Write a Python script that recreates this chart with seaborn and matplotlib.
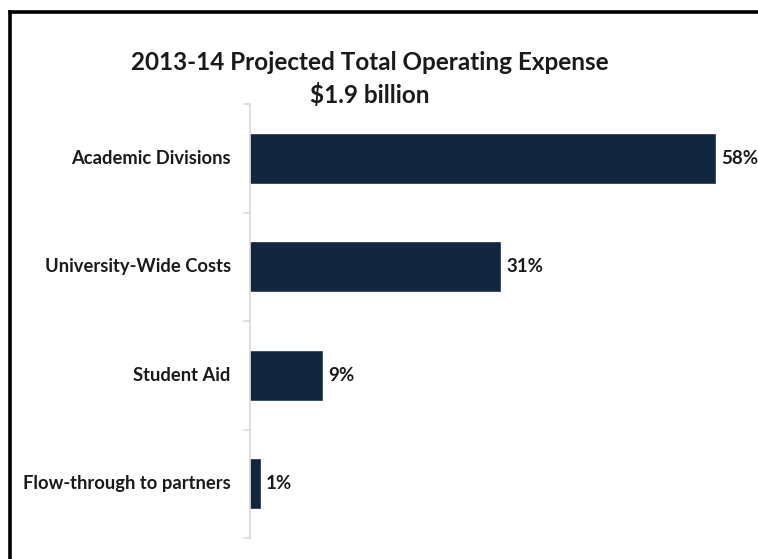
import matplotlib
matplotlib.use("Agg")
import matplotlib.pyplot as plt
import seaborn as sns
import pandas as pd
from matplotlib.lines import Line2D

categories = ["Academic Divisions", "University-Wide Costs", "Student Aid", "Flow-through to partners"]
values = [58.0, 31.2, 9.0, 1.2]
labels = ["58%", "31%", "9%", "1%"]
title_lines = ["2013-14 Projected Total Operating Expense", "$1.9 billion"]

sns.set_theme(style="white")
plt.rcParams['font.family'] = ['Lato', 'DejaVu Sans']

W, H = 758, 559
fig = plt.figure(figsize=(W / 100, H / 100), dpi=100)
fig.patch.set_facecolor("white")

left_px, right_px, top_px, bot_px = 250, 746, 104, 538
ax = fig.add_axes([left_px / W, 1 - bot_px / H, (right_px - left_px) / W, (bot_px - top_px) / H])

df = pd.DataFrame({"cat": categories, "val": values})
sns.barplot(data=df, x="val", y="cat", color="#13263F", width=0.45, ax=ax,
            saturation=1, edgecolor="#1F3355", linewidth=0.5)

ax.set_xlim(0, (right_px - left_px) / 8.02)
ax.set_ylim(len(categories) - 0.5, -0.5)
ax.set_xlabel("")
ax.set_ylabel("")
ax.set_xticks([])
ax.set_yticks([])
for s in ["top", "right", "bottom"]:
    ax.spines[s].set_visible(False)
ax.spines["left"].set_color("#D9D9D9")
ax.spines["left"].set_linewidth(1.2)

# category boundary ticks
for b in [i - 0.5 for i in range(len(categories) + 1)]:
    ax.add_line(Line2D([-0.012, 0], [b, b], transform=ax.get_yaxis_transform(),
                       color="#D9D9D9", lw=1.2, clip_on=False))

for i, (cat, v, lab) in enumerate(zip(categories, values, labels)):
    ax.text(v + 0.75, i, lab, va="center", ha="left", fontsize=13.5, fontweight="bold", color="#1a1a1a")
    ax.text(-0.039, i, cat, transform=ax.get_yaxis_transform(), va="center", ha="right",
            fontsize=13.2, fontweight="bold", color="#1a1a1a")

fig.text(370 / W, 1 - 62 / H, title_lines[0], ha="center", va="center", fontsize=17.5, fontweight="bold", color="#1a1a1a")
fig.text(370 / W, 1 - 95 / H, title_lines[1], ha="center", va="center", fontsize=17.5, fontweight="bold", color="#1a1a1a")

# outer frame (left and top edges)
fig.add_artist(Line2D([9.5 / W, 9.5 / W], [0, 1 - 12 / H], transform=fig.transFigure, color="black", lw=2.6, solid_capstyle="projecting"))
fig.add_artist(Line2D([9.5 / W, 1], [1 - 12 / H, 1 - 12 / H], transform=fig.transFigure, color="black", lw=2.6, solid_capstyle="projecting"))

fig.savefig("out.png", dpi=100, facecolor="white")
